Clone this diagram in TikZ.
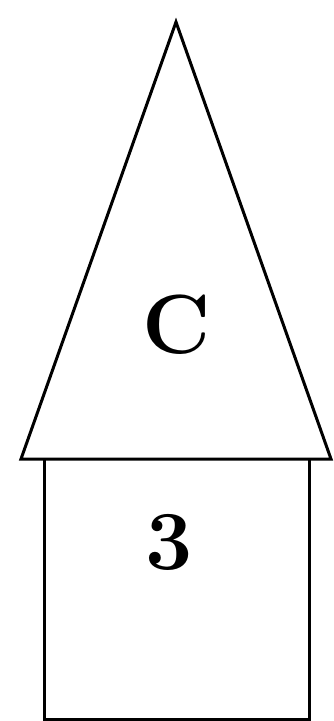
\documentclass[tikz,border=0pt]{standalone}
\begin{document}
\begin{tikzpicture}[x=1pt,y=-1pt,
  shapeline/.style={draw=black,line width=3pt,line join=miter},
  lbl/.style={font=\fontsize{84}{84}\selectfont\bfseries,inner sep=0pt}]
\useasboundingbox (0,0) rectangle (334,721);
\coordinate (apex) at (176,22);
\coordinate (bl) at (21,459);
\coordinate (br) at (331,459);
\draw[shapeline] (apex) -- (br) -- (bl) -- cycle;
\draw[shapeline] (44,459) -- (44,719) -- (309,719) -- (309,459);
\node[lbl] (c) at (177,325) {C};
\node[lbl] (three) at (169,542) {3};
\end{tikzpicture}
\end{document}
